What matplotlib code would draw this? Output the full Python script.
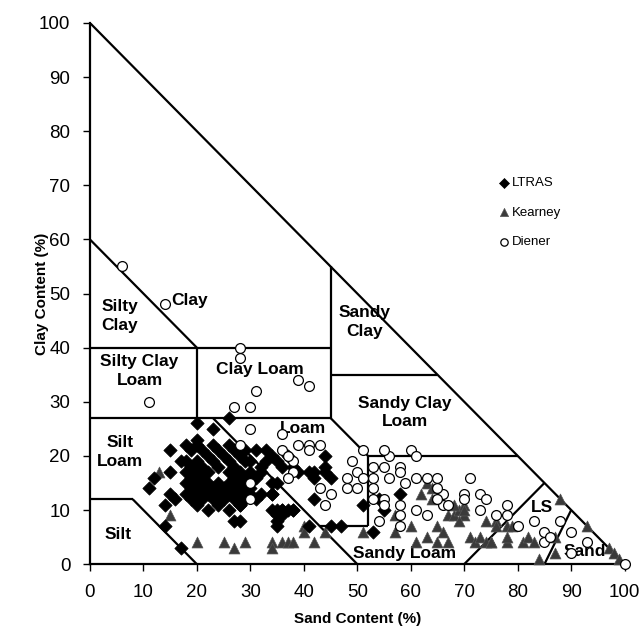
"""Soil texture triangle (sand vs clay) with LTRAS, Kearney and Diener samples."""
import matplotlib
matplotlib.use("Agg")
import matplotlib.pyplot as plt

plt.rcParams["font.family"] = ["Liberation Sans", "DejaVu Sans"]

# ── Sample data (sand %, clay %) ────────────────────────────────────────────
ltras_sand = [20, 26, 23, 20, 20, 18, 15, 23, 26, 17, 15, 12, 11, 15, 16, 14, 14, 17,
              27, 28, 28, 35, 35, 34, 36, 37,
              19, 21, 24, 27, 29,
              22, 25, 28,
              18, 20, 23, 26, 29,
              19, 21, 24, 27,
              18, 20, 22, 26, 28, 30,
              19, 21, 27, 29,
              18, 20, 22, 24, 26, 28, 30,
              19, 21, 23, 25, 27, 29,
              18, 20, 22, 24, 26, 28, 30,
              19, 21, 23, 25, 27, 29,
              20, 24, 28,
              22, 26,
              31, 33, 34, 33, 35, 36, 32, 31, 34, 35, 32, 34, 31, 30, 30, 32,
              37, 39, 38, 41, 42, 44, 44, 44, 42, 45, 42, 38, 41, 45, 47,
              51, 53, 54, 55, 58, 34, 35, 36, 38, 35, 36]
ltras_clay = [26, 27, 25, 23, 22, 22, 21, 22, 22, 19, 17, 16, 14, 13, 12, 11, 7, 3,
              8, 11, 8, 8, 7, 10, 10, 10,
              21, 21, 21, 21, 21,
              20, 20, 20,
              19, 19, 19, 19, 19,
              18, 18, 18, 18,
              17, 17, 17, 17, 17, 17,
              16, 16, 16, 16,
              15, 15, 15, 15, 15, 15, 15,
              14, 14, 14, 14, 14, 14,
              13, 13, 13, 13, 13, 13, 13,
              12, 12, 12, 12, 12, 12,
              11, 11, 11,
              10, 10,
              21, 21, 20, 19, 19, 18, 17, 16, 15, 15, 13, 13, 12, 19, 14, 18,
              20, 17, 18, 17, 17, 20, 18, 17, 16, 16, 12, 10, 7, 7, 7,
              11, 6, 12, 10, 13, 13, 10, 10, 10, 9, 9]

kearney_sand = [13, 15, 20, 25, 27, 29, 34, 34, 36, 37, 38, 40, 40, 42, 44, 51,
                57, 57, 60, 63, 61, 65, 66, 65, 67, 63, 62, 64, 67, 68, 69, 70,
                70, 68, 69, 71, 72, 73, 74, 75, 74, 76, 76, 78, 79, 75, 78, 78,
                81, 82, 83, 84, 87, 87, 88, 93, 97, 98, 99, 64, 70]
kearney_clay = [17, 9, 4, 4, 3, 4, 4, 3, 4, 4, 4, 7, 6, 4, 6, 6,
                9, 6, 7, 5, 4, 7, 6, 4, 4, 15, 13, 12, 9, 9, 10, 11,
                9, 11, 8, 5, 4, 5, 4, 4, 8, 8, 7, 7, 7, 4, 4, 5,
                4, 5, 4, 1, 5, 2, 12, 7, 3, 2, 1, 14, 10]

diener_sand = [6, 14, 28, 28, 39, 41, 31, 11, 27, 30, 30, 28, 36, 36, 38, 38, 30, 30,
               39, 41, 43, 41, 37, 37, 43, 44, 45, 48, 49, 50, 48, 50, 51, 51,
               53, 53, 53, 55, 56, 56, 54, 53, 55, 58, 58, 59, 61, 63, 65, 55,
               60, 61, 58, 58, 58, 55, 61, 63, 66, 66, 70, 70, 65, 65, 67, 71,
               73, 73, 74, 76, 78, 78, 80, 83, 88, 85, 85, 86, 90, 93, 90, 100]
diener_clay = [55, 48, 40, 38, 34, 33, 32, 30, 29, 29, 25, 22, 24, 21, 19, 17, 15, 12,
               22, 22, 22, 21, 20, 16, 14, 11, 13, 16, 19, 17, 14, 14, 16, 21,
               18, 16, 14, 18, 16, 20, 8, 12, 12, 18, 17, 15, 16, 16, 16, 21,
               21, 20, 11, 9, 7, 11, 10, 9, 11, 13, 13, 12, 14, 12, 11, 16,
               13, 10, 12, 9, 11, 9, 7, 8, 8, 6, 4, 5, 6, 4, 2, 0]

# ── Texture class boundaries (sand %, clay %) ───────────────────────────────
boundaries = [
    ([0, 20], [60, 40]),
    ([0, 45], [40, 40]),
    ([45, 45], [27, 55]),
    ([20, 20], [27, 40]),
    ([0, 45], [27, 27]),
    ([45, 52], [27, 20]),
    ([45, 65], [35, 35]),
    ([52, 80], [20, 20]),
    ([52, 52], [7, 20]),
    ([43, 52], [7, 7]),
    ([23, 50], [27, 0]),
    ([0, 8], [12, 12]),
    ([8, 20], [12, 0]),
    ([70, 85], [0, 15]),
    ([85, 90], [0, 10]),
    ([0, 100], [100, 0]),
]

class_labels = ["Clay", "Silty\nClay", "Silty Clay\nLoam", "Clay Loam", "Sandy\nClay",
                "Sandy Clay\nLoam", "Silt\nLoam", "Loam", "Silt", "Sandy Loam", "LS", "Sand"]
label_sand = [18.7, 5.6, 9.3, 31.8, 51.4, 58.9, 5.6, 39.8, 5.2, 58.9, 84.5, 92.5]
label_clay = [48.8, 45.8, 35.7, 35.9, 44.7, 28.0, 20.7, 25.0, 5.5, 2.0, 10.5, 2.4]

fig = plt.figure(figsize=(6.42, 6.36), dpi=100)
ax = fig.add_axes([0.140, 0.113, 0.833, 0.851])

for xs, ys in boundaries:
    ax.plot(xs, ys, color="black", lw=1.6, solid_capstyle="butt", zorder=2)

for text, x, y in zip(class_labels, label_sand, label_clay):
    ax.text(x, y, text, ha="center", va="center", fontsize=12.5, fontweight="bold",
            linespacing=1.3, zorder=3)

ax.scatter(kearney_sand, kearney_clay, marker="^", s=62, color="#3a3a3a",
           edgecolors="#555555", linewidths=0.5, label="Kearney", zorder=4, clip_on=False)
ax.scatter(ltras_sand, ltras_clay, marker="D", s=46, color="black",
           edgecolors="black", linewidths=0.5, label="LTRAS", zorder=5, clip_on=False)
ax.scatter(diener_sand, diener_clay, marker="o", s=50, facecolors="white",
           edgecolors="black", linewidths=0.9, label="Diener", zorder=6, clip_on=False)

ax.set_xlim(0, 100)
ax.set_ylim(0, 100)
ax.set_xticks(range(0, 101, 10))
ax.set_yticks(range(0, 101, 10))
ax.spines["top"].set_visible(False)
ax.spines["right"].set_visible(False)
ax.spines["left"].set_linewidth(1.6)
ax.spines["bottom"].set_linewidth(1.6)
ax.tick_params(direction="out", length=5, width=1, labelsize=13.5)
ax.tick_params(axis="x", pad=9)
ax.tick_params(axis="y", pad=9)

ax.set_xlabel("Sand Content (%)", fontsize=11, fontweight="bold")
ax.set_ylabel("Clay Content (%)", fontsize=11, fontweight="bold")
ax.xaxis.set_label_coords(0.5, -0.088)
ax.yaxis.set_label_coords(-0.077, 0.5)

handles, labels = ax.get_legend_handles_labels()
order = [1, 0, 2]
ax.legend([handles[i] for i in order], [labels[i] for i in order],
          loc="upper left", bbox_to_anchor=(0.755, 0.727), frameon=False,
          fontsize=9.5, handlelength=0.6, handletextpad=0.3, labelspacing=1.3,
          borderpad=0, markerscale=0.75)

fig.savefig("out.png", dpi=100)
